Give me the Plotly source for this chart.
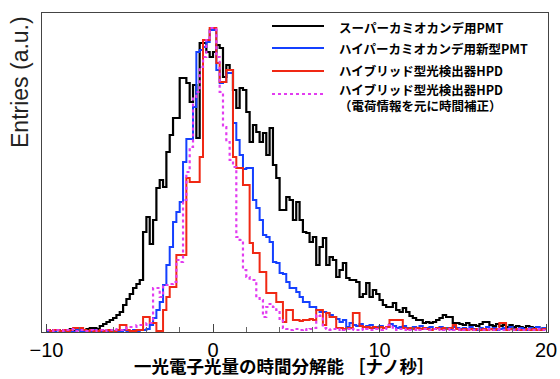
import numpy as np
import plotly.graph_objects as go

# ---- data: time-resolution histograms, bin width 0.2 ns, range -10..20 ns ----
bin_start = -10.0
bin_width = 0.2

super_k_pmt = [2,1,2,2,1,2,2,3,1,2,2,1,3,4,4,3,6,8,10,12,
               14,17,20,27,33,38,44,48,52,100,115,88,112,144,152,145,180,197,214,214,
               254,254,249,230,247,194,289,289,280,275,280,287,284,255,267,262,242,224,244,242,
               220,190,207,200,190,199,177,204,167,154,122,122,135,132,112,130,112,100,99,90,
               95,67,85,94,67,75,72,55,62,69,54,52,52,50,35,38,49,35,42,38,
               32,27,25,25,29,22,20,24,20,16,14,12,12,9,10,9,10,12,14,17,
               15,15,9,9,8,7,9,7,7,6,8,10,10,7,6,8,6,7,5,7,
               5,6,5,4,6,5,4,5,3,4]

hyper_k_pmt = [1,0,1,2,1,0,1,1,0,2,1,1,0,1,2,1,0,1,1,2,
               1,0,1,2,1,1,2,1,2,2,3,7,14,22,30,47,67,85,110,120,
               130,170,193,193,225,280,282,285,290,302,302,262,249,250,259,259,209,192,177,163,
               164,164,132,124,112,97,95,90,70,69,59,58,50,44,44,40,35,30,30,25,
               25,22,20,20,19,17,15,13,10,12,5,9,7,6,8,5,6,7,4,5,
               6,4,5,8,6,4,5,6,4,3,5,4,6,3,4,5,3,4,5,3,
               4,3,5,4,3,4,3,5,3,2,4,3,5,3,4,2,3,4,3,5,
               3,2,4,3,2,4,3,5,3,4]

hpd = [2,1,2,2,1,2,1,2,4,4,4,2,1,2,1,1,2,1,2,1,
       1,2,7,7,2,1,1,2,2,15,15,9,9,1,1,22,35,45,45,77,
       77,77,154,150,150,150,175,292,292,304,304,269,250,250,262,262,175,164,164,147,
       147,89,79,79,60,60,39,39,39,30,30,10,22,22,12,12,11,12,12,13,
       12,22,22,7,19,15,15,4,4,3,4,4,19,19,6,5,5,4,5,4,
       5,4,5,12,12,12,12,4,3,4,3,4,3,4,3,2,3,4,3,4,
       3,4,7,3,2,3,2,3,2,3,2,3,2,3,2,3,9,9,2,3,
       2,3,2,2,3,2,3,2,2,3]

hpd_corrected = [2,2,1,2,2,1,2,3,2,1,2,2,1,2,1,2,2,1,2,2,
                 3,2,2,3,5,5,5,7,7,7,9,9,44,44,35,47,47,48,50,72,
                 70,132,160,185,235,240,265,275,292,304,304,275,240,205,190,172,165,95,92,62,
                 55,52,52,34,32,15,25,28,25,22,12,4,3,2,3,3,2,3,2,3,
                 4,17,16,4,3,2,3,2,3,2,3,2,3,2,3,2,3,2,2,3,
                 2,3,7,7,3,2,3,2,3,2,2,3,2,3,2,2,3,2,3,2,
                 2,3,2,2,3,2,3,2,2,3,2,2,3,2,2,3,2,2,3,2,
                 2,3,2,2,3,2,2,3,2,2]

series_names = ["スーパーカミオカンデ用PMT",
                "ハイパーカミオカンデ用新型PMT",
                "ハイブリッド型光検出器HPD",
                "ハイブリッド型光検出器HPD"]
series_note = "（電荷情報を元に時間補正）"
x_title = "一光電子光量の時間分解能 ［ナノ秒］"
y_title = "Entries (a.u.)"
x_ticks = [-10, 0, 10, 20]

# ---- figure ----
W, H = 560, 379
ML, MR, MT, MB = 42, 12, 13, 47
PW, PH = W - ML - MR, H - MT - MB

def px2paper(px, py):
    return (px - ML) / PW, (H - MB - py) / PH

styles = [
    dict(color="#000000", width=2.2, dash="solid"),
    dict(color="#1440ff", width=2.0, dash="solid"),
    dict(color="#f02814", width=2.0, dash="solid"),
    dict(color="#e23cf0", width=2.2, dash="dot"),
]
all_series = [super_k_pmt, hyper_k_pmt, hpd, hpd_corrected]

fig = go.Figure()
for vals, st, name in zip(all_series, styles, series_names):
    n = len(vals)
    edges = bin_start + bin_width * np.arange(n + 1)
    yv = list(vals) + [vals[-1]]
    fig.add_trace(go.Scatter(x=edges, y=yv, mode="lines", line_shape="hv",
                             line=st, name=name, showlegend=False,
                             hoverinfo="skip"))

# manual legend
leg_rows = [26, 48, 71, 94]
text_rows = [27, 48, 71, 97]
labels = ["<b>%s</b>" % n for n in series_names]
labels[3] = "<b>%s</b><br><b>%s</b>" % (series_names[3], series_note)
for st, ly, ty, lab in zip(styles, leg_rows, text_rows, labels):
    x0, y0 = px2paper(272, ly)
    x1, _ = px2paper(324, ly)
    fig.add_shape(type="line", xref="paper", yref="paper", x0=x0, x1=x1, y0=y0, y1=y0,
                  line=dict(color=st["color"], width=st["width"], dash=st["dash"]))
    tx, tyy = px2paper(337, ty)
    fig.add_annotation(xref="paper", yref="paper", x=tx, y=tyy, text=lab,
                       showarrow=False, xanchor="left", yanchor="middle", align="left",
                       font=dict(family="Noto Sans CJK JP", size=12.5, color="#000"))

# y title at top-left
tx, tyy = px2paper(20, 82)
fig.add_annotation(xref="paper", yref="paper", x=tx, y=tyy, text=y_title, textangle=-90,
                   showarrow=False, xanchor="center", yanchor="middle",
                   font=dict(family="Liberation Sans, Arial", size=23, color="#222"))

# x title
tx, tyy = px2paper(284, 366)
fig.add_annotation(xref="paper", yref="paper", x=tx, y=tyy, text="<b>%s</b>" % x_title,
                   showarrow=False, xanchor="center", yanchor="middle",
                   font=dict(family="Noto Sans CJK JP", size=17.5, color="#000"))

fig.update_layout(
    width=W, height=H,
    margin=dict(l=ML, r=MR, t=MT, b=MB, autoexpand=False),
    plot_bgcolor="white", paper_bgcolor="white",
    showlegend=False,
)
fig.update_xaxes(range=[-10.27, 20.12], tickvals=x_ticks, automargin=False,
                 ticks="inside", ticklen=8, tickcolor="#444", tickwidth=1,
                 minor=dict(dtick=2, ticks="inside", ticklen=5, tickcolor="#666"),
                 showgrid=False, zeroline=False,
                 showline=True, linecolor="#444", linewidth=1, mirror=True,
                 tickfont=dict(family="Liberation Sans, Arial", size=20, color="#000"))
fig.update_yaxes(range=[0, 319], showticklabels=False, ticks="", automargin=False,
                 showgrid=False, zeroline=False,
                 showline=True, linecolor="#444", linewidth=1, mirror=True)

fig.write_html("out.html", config={"displayModeBar": False},
               post_script="document.body.style.margin='0px';document.body.style.overflow='hidden';")
